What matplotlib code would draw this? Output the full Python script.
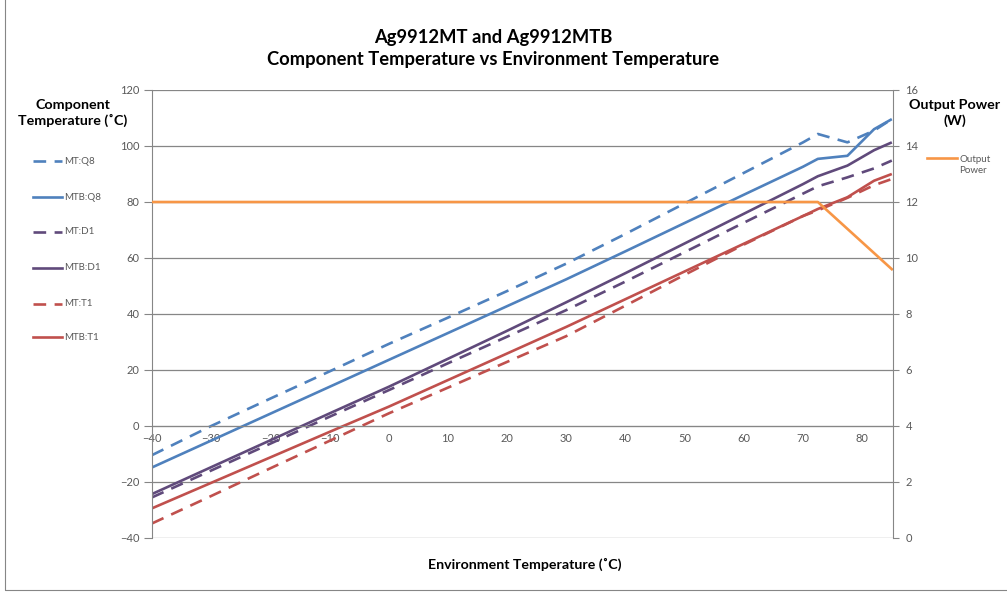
import matplotlib
matplotlib.use('Agg')
import matplotlib.pyplot as plt
from matplotlib.lines import Line2D
from matplotlib.patches import Rectangle

plt.rcParams['font.family'] = ['Lato', 'DejaVu Sans']

env_temp = [-40, -30, -20, -10, 0, 10, 20, 30, 40, 50, 60, 70, 72.5, 77.5, 82, 85]
mt_q8 = [-10.4, 0, 9.8, 19.5, 29.3, 38.7, 48.2, 58, 68.6, 79.5, 90.4, 101.3, 104.3, 101.3, 105.5, 109.6]
mtb_q8 = [-14.8, -5.2, 4.4, 14, 23.6, 33.2, 42.8, 52.4, 62.4, 72.5, 82.6, 92.6, 95.4, 96.5, 106, 109.6]
mt_d1 = [-25.5, -15.9, -6.3, 3.3, 12.8, 22.4, 31.9, 41.4, 51.6, 62.1, 72.6, 83, 85.6, 88.8, 92, 94.8]
mtb_d1 = [-24.3, -14.7, -5.1, 4.5, 14, 24, 34, 44.2, 54.6, 65.2, 75.8, 86.4, 89.2, 93, 98.5, 101.3]
mt_t1 = [-34.8, -25, -15.1, -5.3, 4.5, 13.7, 22.9, 32.1, 43, 54, 64.8, 75, 77, 81.5, 86, 88.2]
mtb_t1 = [-29.4, -20.3, -11.2, -2.1, 6.9, 16.4, 25.9, 35.4, 45.3, 55.2, 65.1, 75, 77.5, 81.7, 87.6, 90]

power_temp = [-40, 72.5, 85]
output_power = [12, 12, 9.6]

blue = '#4F81BD'
purple = '#604A7B'
red = '#C0504D'
orange = '#F79646'
grid_c = '#868686'
tick_c = '#595959'
dash = (0, (4.8, 3.2))

series = [
    ('MT:Q8', mt_q8, blue, dash),
    ('MTB:Q8', mtb_q8, blue, '-'),
    ('MT:D1', mt_d1, purple, dash),
    ('MTB:D1', mtb_d1, purple, '-'),
    ('MT:T1', mt_t1, red, dash),
    ('MTB:T1', mtb_t1, red, '-'),
]

fig = plt.figure(figsize=(10.07, 5.92), dpi=100)
ax = fig.add_axes([152 / 1007, 54 / 592, 741 / 1007, 448 / 592])
ax2 = ax.twinx()

for name, vals, col, ls in series:
    ax.plot(env_temp, vals, color=col, linestyle=ls, lw=1.9, solid_capstyle='butt', dash_capstyle='butt')

ax2.plot(power_temp, output_power, color=orange, lw=1.9)

ax.set_xlim(-40, 85.2)
ax.set_ylim(-40, 120)
ax.set_yticks(range(-40, 121, 20))
ax.set_xticks(range(-40, 81, 10))
ax2.set_ylim(0, 16)
ax2.set_yticks(range(0, 17, 2))

ax.grid(axis='y', color=grid_c, lw=0.9)
ax.set_axisbelow(True)
for s in ['top', 'right']:
    ax.spines[s].set_visible(False)
ax.spines['bottom'].set_position(('data', 0))
ax.spines['bottom'].set_color(grid_c)
ax.spines['left'].set_color(grid_c)
ax.tick_params(axis='x', length=0, pad=5, labelsize=8, labelcolor=tick_c)
ax.tick_params(axis='y', length=6, color=grid_c, labelsize=8, labelcolor=tick_c, pad=3)
for s in ['top', 'left', 'bottom']:
    ax2.spines[s].set_visible(False)
ax2.spines['right'].set_color(grid_c)
ax2.tick_params(axis='y', length=4, color=grid_c, labelsize=8, labelcolor=tick_c, pad=5)

fig.text(493 / 1007, 1 - 37 / 592, 'Ag9912MT and Ag9912MTB', ha='center', va='center',
         fontsize=13.2, fontweight='bold')
fig.text(493 / 1007, 1 - 60 / 592, 'Component Temperature vs Environment Temperature', ha='center', va='center',
         fontsize=13.2, fontweight='bold')
fig.text(525 / 1007, 1 - 564 / 592, 'Environment Temperature (˚C)', ha='center', va='center',
         fontsize=10.2, fontweight='bold')
fig.text(73 / 1007, 1 - 113 / 592, 'Component\nTemperature (˚C)', ha='center', va='center',
         fontsize=10.3, fontweight='bold', linespacing=1.3)
fig.text(955 / 1007, 1 - 113 / 592, 'Output Power\n(W)', ha='center', va='center',
         fontsize=10.3, fontweight='bold', linespacing=1.3)

# legend entries drawn by hand to match the spaced Excel layout
leg_y = [161, 197, 232, 268, 304, 337]
for (name, vals, col, ls), y in zip(series, leg_y):
    yf = 1 - y / 592
    fig.add_artist(Line2D([33 / 1007, 62 / 1007], [yf, yf], color=col, linestyle=ls, lw=1.9,
                          transform=fig.transFigure))
    fig.text(64 / 1007, yf, name, va='center', fontsize=7, color=tick_c)

yf = 1 - 158 / 592
fig.add_artist(Line2D([927 / 1007, 957 / 1007], [yf, yf], color=orange, lw=1.9, transform=fig.transFigure))
fig.text(959 / 1007, 1 - 165 / 592, 'Output\nPower', va='center', fontsize=7, color=tick_c, linespacing=1.35)

fig.add_artist(Rectangle((5 / 1007, 2 / 592), 1.2, 1.2, transform=fig.transFigure, fill=False,
                         edgecolor=grid_c, lw=0.8))

fig.savefig('out.png', dpi=100)
